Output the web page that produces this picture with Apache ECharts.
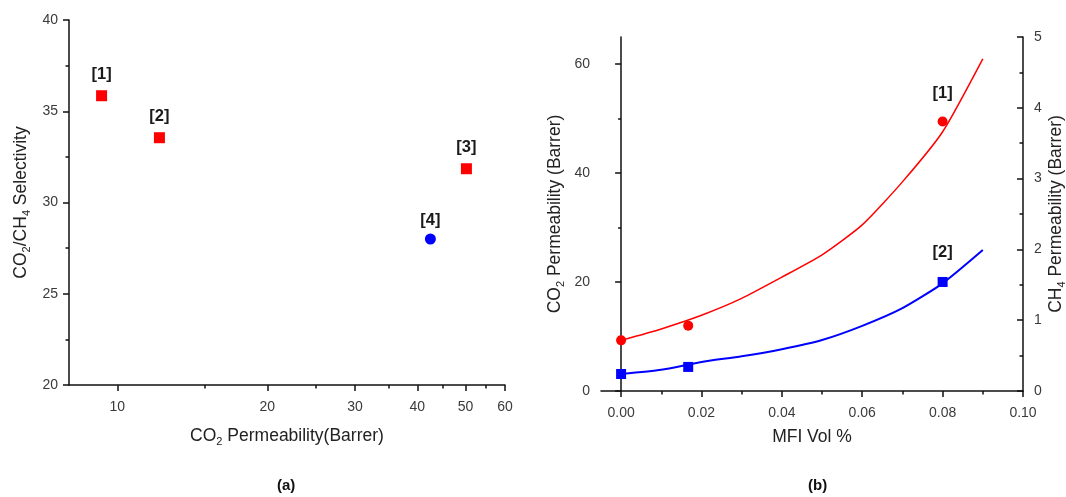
<!DOCTYPE html>
<html>
<head>
<meta charset="utf-8">
<script src="https://cdn.jsdelivr.net/npm/echarts@6/dist/echarts.min.js"></script>
<style>html,body{margin:0;padding:0;background:#fff}#c{width:1066px;height:497px}</style>
</head>
<body>
<div id="c"></div>
<script>
// ---- Panel (a) data ----
const leftRedX = [9.3, 12.15, 50.2];
const leftRedY = [35.85, 33.55, 31.85];
const leftRedRefs = ['[1]', '[2]', '[3]'];
const leftBlueX = [42.5];
const leftBlueY = [28.0];
const leftBlueRefs = ['[4]'];
const leftXMajorTicks = [10, 20, 30, 40, 50, 60];
const leftXMinorTicks = [15, 25, 35, 45, 55];

// ---- Panel (b) data ----
const mfiPoints = [0, 0.0167, 0.08];
const co2Perm = [9.3, 12.0, 49.5];
const ch4Perm = [0.24, 0.34, 1.54];
const co2Refs = ['', '', '[1]'];
const ch4Refs = ['', '', '[2]'];
const fitX = [0, 0.01, 0.02, 0.03, 0.04, 0.05, 0.06, 0.07, 0.08, 0.09];
const co2Fit = [9.3, 11.4, 13.9, 17.0, 20.9, 25.0, 30.5, 38.4, 47.6, 61.0];
const ch4Fit = [0.24, 0.30, 0.41, 0.49, 0.59, 0.72, 0.92, 1.17, 1.52, 1.99];
const rightXMajorTicks = [0, 0.02, 0.04, 0.06, 0.08, 0.10];
const rightXMinorTicks = [0.01, 0.03, 0.05, 0.07, 0.09];
const rightYMajorTicks = [0, 20, 40, 60];
const rightYMinorTicks = [10, 30, 50];

const FONT = 'Liberation Sans';
const LABEL_COLOR = '#3a3a3a';
const NAME_COLOR = '#222';
const TICK = { color: '#111', width: 1.5 };
const axisLine = { show: true, lineStyle: { color: '#111', width: 1.5 } };
const rich = {
  n: { fontSize: 17.5, fontFamily: FONT, color: NAME_COLOR, lineHeight: 22, verticalAlign: 'middle' },
  s: { fontSize: 11, fontFamily: FONT, color: NAME_COLOR, lineHeight: 22, verticalAlign: 'bottom' }
};
const refLabel = (arr, dist) => ({
  show: true, position: 'top', distance: dist,
  formatter: p => arr[p.dataIndex],
  fontFamily: FONT, fontWeight: 'bold', fontSize: 16.5, color: '#1a1a1a'
});
const zip = (a, b) => a.map((v, i) => [v, b[i]]);

const chart = echarts.init(document.getElementById('c'), null, { renderer: 'canvas' });
chart.setOption({
  animation: false,
  textStyle: { fontFamily: FONT },
  grid: [
    { left: 69, top: 20, right: 561, bottom: 112, containLabel: false, outerBoundsMode: 'none' },
    { left: 601, top: 37, right: 43, bottom: 106, containLabel: false, outerBoundsMode: 'none' }
  ],
  xAxis: [
    {
      gridIndex: 0, type: 'log', logBase: 10, min: 8, max: 60, position: 'bottom',
      axisLine,
      axisTick: { show: true, length: 6, customValues: leftXMajorTicks, lineStyle: TICK },
      axisLabel: { show: true, customValues: leftXMajorTicks, color: LABEL_COLOR, fontSize: 14, margin: 15, formatter: v => String(Math.round(v)) },
      splitLine: { show: false },
      name: '{n|CO}{s|2}{n| Permeability(Barrer)}', nameLocation: 'middle', nameGap: 40,
      nameTextStyle: { rich }
    },
    {
      gridIndex: 0, type: 'log', logBase: 10, min: 8, max: 60, position: 'bottom',
      axisLine: { show: false },
      axisTick: { show: true, length: 3.5, customValues: leftXMinorTicks, lineStyle: TICK },
      axisLabel: { show: false },
      splitLine: { show: false }
    },
    {
      gridIndex: 1, type: 'value', min: -0.005, max: 0.1, position: 'bottom',
      axisLine,
      axisTick: { show: true, length: 6, customValues: rightXMajorTicks, lineStyle: TICK },
      axisLabel: { show: true, customValues: rightXMajorTicks, color: LABEL_COLOR, fontSize: 14, margin: 15, formatter: v => v.toFixed(2) },
      splitLine: { show: false },
      name: 'MFI Vol %', nameLocation: 'middle', nameGap: 37,
      nameTextStyle: { fontSize: 17.5, color: NAME_COLOR, fontFamily: FONT }
    },
    {
      gridIndex: 1, type: 'value', min: -0.005, max: 0.1, position: 'bottom',
      axisLine: { show: false },
      axisTick: { show: true, length: 3.5, customValues: rightXMinorTicks, lineStyle: TICK },
      axisLabel: { show: false },
      splitLine: { show: false }
    }
  ],
  yAxis: [
    {
      gridIndex: 0, type: 'value', min: 20, max: 40, interval: 5,
      axisLine,
      axisTick: { show: true, length: 6, lineStyle: TICK },
      minorTick: { show: true, splitNumber: 2, length: 3.5, lineStyle: TICK },
      axisLabel: { color: LABEL_COLOR, fontSize: 14, margin: 11 },
      splitLine: { show: false },
      name: '{n|CO}{s|2}{n|/CH}{s|4}{n| Selectivity}', nameLocation: 'middle', nameGap: 37, nameRotate: 90,
      nameTextStyle: { rich }
    },
    {
      gridIndex: 1, type: 'value', min: 0, max: 65, position: 'left',
      axisLine,
      axisTick: { show: true, length: 6, customValues: rightYMajorTicks, lineStyle: TICK },
      axisLabel: { show: true, customValues: rightYMajorTicks, color: LABEL_COLOR, fontSize: 14, margin: 11 },
      splitLine: { show: false },
      name: '{n|CO}{s|2}{n| Permeability (Barrer)}', nameLocation: 'middle', nameGap: 35, nameRotate: 90,
      nameTextStyle: { rich }
    },
    {
      gridIndex: 1, type: 'value', min: 0, max: 65, position: 'left',
      axisLine: { show: false },
      axisTick: { show: true, length: 3, customValues: rightYMinorTicks, lineStyle: TICK },
      axisLabel: { show: false },
      splitLine: { show: false }
    },
    {
      gridIndex: 1, type: 'value', min: 0, max: 5, interval: 1, position: 'right',
      axisLine,
      axisTick: { show: true, inside: true, length: 6, lineStyle: TICK },
      minorTick: { show: true, splitNumber: 2, length: 3.5, lineStyle: TICK },
      axisLabel: { color: LABEL_COLOR, fontSize: 14, margin: 11 },
      splitLine: { show: false },
      name: '{n|CH}{s|4}{n| Permeability (Barrer)}', nameLocation: 'middle', nameGap: 22, nameRotate: 90,
      nameTextStyle: { rich }
    }
  ],
  graphic: [
    { type: 'text', left: 287 - 10, top: 478, style: { text: '(a)', font: 'bold 15px "Liberation Sans"', fill: '#111' } },
    { type: 'text', left: 818 - 10, top: 478, style: { text: '(b)', font: 'bold 15px "Liberation Sans"', fill: '#111' } }
  ],
  series: [
    {
      type: 'scatter', xAxisIndex: 0, yAxisIndex: 0, symbol: 'rect', symbolSize: 11,
      itemStyle: { color: '#ff0000', opacity: 1 }, data: zip(leftRedX, leftRedY), label: refLabel(leftRedRefs, 7)
    },
    {
      type: 'scatter', xAxisIndex: 0, yAxisIndex: 0, symbol: 'circle', symbolSize: 11,
      itemStyle: { color: '#0000ff', opacity: 1 }, data: zip(leftBlueX, leftBlueY), label: refLabel(leftBlueRefs, 5)
    },
    {
      type: 'line', xAxisIndex: 2, yAxisIndex: 1, showSymbol: false, smooth: 0.2,
      lineStyle: { color: '#ff0000', width: 1.5 }, data: zip(fitX, co2Fit)
    },
    {
      type: 'line', xAxisIndex: 2, yAxisIndex: 3, showSymbol: false, smooth: 0.2,
      lineStyle: { color: '#0000ff', width: 2 }, data: zip(fitX, ch4Fit)
    },
    {
      type: 'scatter', xAxisIndex: 2, yAxisIndex: 1, symbol: 'circle', symbolSize: 10,
      itemStyle: { color: '#ff0000', opacity: 1 }, data: zip(mfiPoints, co2Perm),
      label: refLabel(co2Refs, 14)
    },
    {
      type: 'scatter', xAxisIndex: 2, yAxisIndex: 3, symbol: 'rect', symbolSize: 10,
      itemStyle: { color: '#0000ff', opacity: 1 }, data: zip(mfiPoints, ch4Perm),
      label: refLabel(ch4Refs, 16)
    }
  ]
});
</script>
</body>
</html>
